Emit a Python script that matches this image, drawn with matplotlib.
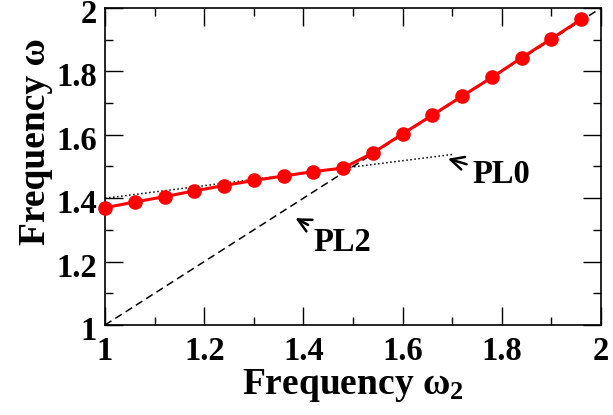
import numpy as np
import matplotlib
matplotlib.use('Agg')
import matplotlib.pyplot as plt
import matplotlib.transforms as mtransforms
from matplotlib.ticker import MultipleLocator

plt.rcParams['font.family'] = ['Liberation Serif', 'DejaVu Serif']
plt.rcParams['font.weight'] = 'bold'
plt.rcParams['mathtext.fontset'] = 'custom'
plt.rcParams['mathtext.rm'] = 'Liberation Serif:bold'
plt.rcParams['mathtext.it'] = 'Liberation Serif:bold'
plt.rcParams['mathtext.bf'] = 'Liberation Serif:bold'

# red data points (omega vs omega_2)
omega2 = [1.00, 1.06, 1.12, 1.18, 1.24, 1.30, 1.36, 1.42, 1.48, 1.54,
          1.60, 1.66, 1.72, 1.78, 1.84, 1.90, 1.96]
omega = [1.370, 1.388, 1.405, 1.423, 1.440, 1.456, 1.470, 1.484, 1.495, 1.543,
         1.603, 1.662, 1.722, 1.781, 1.843, 1.903, 1.964]

# PL0 (dotted) and PL2 (dashed) reference lines
pl0_x = [1.0, 1.7]
pl0_y = [1.40, 1.538]
pl2_x = [1.0, 2.0]
pl2_y = [1.0, 2.0]

fig = plt.figure(figsize=(6.13, 4.15), dpi=100)
ax = fig.add_axes([105 / 613, 90 / 415, 496 / 613, 317 / 415])

ax.plot(pl0_x, pl0_y, color='black', linestyle=':', linewidth=1.1)
ax.plot(pl2_x, pl2_y, color='black', linestyle=(0, (5, 3)), linewidth=1.1)
ax.plot(omega2, omega, color='red', linewidth=2.2, marker='o', markersize=9.5,
        clip_on=False, zorder=3)

ax.set_xlim(1, 2)
ax.set_ylim(1, 2)
ax.xaxis.set_major_locator(MultipleLocator(0.2))
ax.xaxis.set_minor_locator(MultipleLocator(0.1))
ax.yaxis.set_major_locator(MultipleLocator(0.2))
ax.yaxis.set_minor_locator(MultipleLocator(0.1))
ax.xaxis.set_major_formatter(plt.FuncFormatter(lambda v, p: '%g' % round(v, 1)))
ax.yaxis.set_major_formatter(plt.FuncFormatter(lambda v, p: '%g' % round(v, 1)))

ax.tick_params(which='both', direction='in', top=True, right=True, width=1.0)
ax.tick_params(which='major', length=13, labelsize=23.5)
ax.tick_params(which='minor', length=6)
ax.tick_params(axis='x', which='major', pad=8)
ax.tick_params(axis='y', which='major', pad=6)
for s in ax.spines.values():
    s.set_linewidth(1.2)

# nudge y tick labels down a little, like the original
shift = mtransforms.ScaledTranslation(0, -3 / 100, fig.dpi_scale_trans)
for lab in ax.get_yticklabels():
    lab.set_transform(lab.get_transform() + shift)

ax.set_xlabel('Frequency ω$_2$', fontsize=27, fontweight='bold', labelpad=0)
ax.set_ylabel('Frequency ω', fontsize=27, fontweight='bold')
ax.yaxis.set_label_coords(-0.105, 0.578)

ax.annotate('PL0', xy=(1.686, 1.527), xytext=(1.74, 1.475), fontsize=23.5,
            fontweight='bold', va='center', ha='left',
            arrowprops=dict(arrowstyle='->', color='black', lw=1.8))
ax.annotate('PL2', xy=(1.379, 1.341), xytext=(1.42, 1.259), fontsize=23.5,
            fontweight='bold', va='center', ha='left',
            arrowprops=dict(arrowstyle='->', color='black', lw=1.8))

fig.savefig('out.png', dpi=100)
